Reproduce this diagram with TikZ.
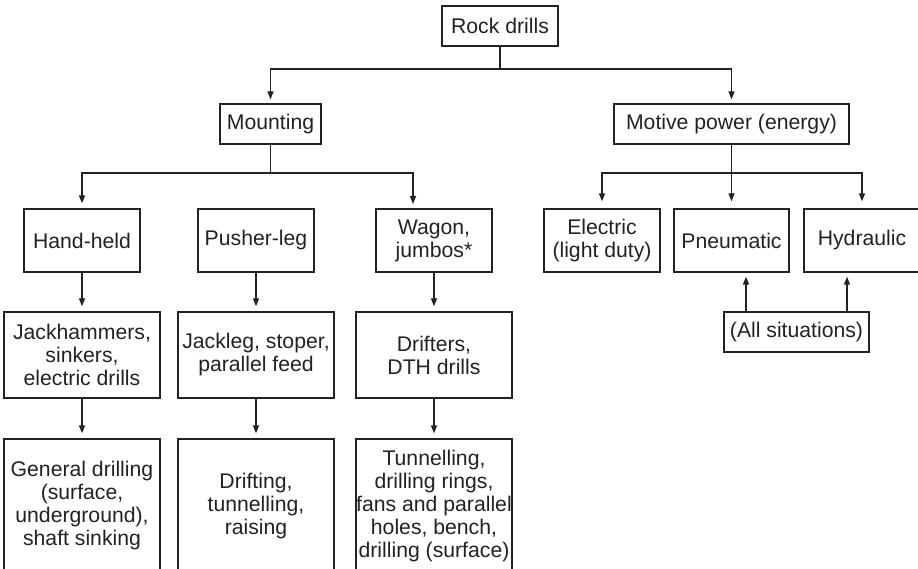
\documentclass[tikz,border=0pt]{standalone}
\usepackage{fontspec}
\setmainfont{Liberation Sans}
\usetikzlibrary{arrows.meta}
\definecolor{ink}{HTML}{222222}
\tikzset{
  box/.style={draw=ink, line width=1.3pt, inner sep=0pt, align=center, text=ink,
    font=\fontsize{21.2}{23}\selectfont},
  arr/.style={draw=ink, line width=1.3pt, -{Triangle[length=8pt,width=6pt]}, shorten >=5pt},
  ln/.style={draw=ink, line width=1.3pt}
}
\begin{document}
\begin{tikzpicture}[x=1pt,y=-1pt]
\useasboundingbox (0,0) rectangle (918,569);
\clip (0,0) rectangle (918,569);
\fill[white] (0,0) rectangle (918,569);
% level 1
\node[box, minimum width=116pt, minimum height=40pt] (rock) at (500,26) {Rock drills};
% level 2
\node[box, minimum width=101pt, minimum height=40pt] (mount) at (270.5,124) {Mounting};
\node[box, minimum width=235pt, minimum height=40pt] (motive) at (731.5,124) {Motive power (energy)};
% level 3
\node[box, minimum width=116pt, minimum height=63pt] (hand) at (82,240.5) {Hand-held};
\node[box, minimum width=116pt, minimum height=63pt] (pusher) at (256,240.5) {Pusher-leg};
\node[box, minimum width=116pt, minimum height=63pt] (wagon) at (434,240.5) {Wagon,\\jumbos*};
\node[box, minimum width=116pt, minimum height=63pt] (elec) at (602,240.5) {Electric\\(light duty)};
\node[box, minimum width=115pt, minimum height=63pt] (pneu) at (731.5,240.5) {Pneumatic};
\node[box, minimum width=116pt, minimum height=63pt] (hyd) at (862,240.5) {Hydraulic};
\node[box, minimum width=145pt, minimum height=40pt] (all) at (796.5,332) {(All situations)};
% level 4
\node[box, minimum width=156pt, minimum height=86pt] (jack) at (82,355) {Jackhammers,\\sinkers,\\electric drills};
\node[box, minimum width=156pt, minimum height=86pt] (jackleg) at (256,355) {Jackleg, stoper,\\parallel feed};
\node[box, minimum width=156pt, minimum height=86pt] (drifters) at (434,355) {Drifters,\\DTH drills};
% level 5
\node[box, minimum width=156pt, minimum height=134pt] (gen) at (82,506) {General drilling\\(surface,\\underground),\\shaft sinking};
\node[box, minimum width=156pt, minimum height=134pt] (drift) at (256,506) {Drifting,\\tunnelling,\\raising};
\node[box, minimum width=156pt, minimum height=134pt] (tunnel) at (434,506) {Tunnelling,\\drilling rings,\\fans and parallel\\holes, bench,\\drilling (surface)};
% connectors
\coordinate (rj) at (500,69);
\coordinate (mj) at (270.5,173);
\coordinate (pj) at (731.5,173);
\coordinate (wagonin) at (413,209);
\draw[ln] (rock.south) -- (rj);
\draw[arr, shorten >=4pt] (rj) -| (mount.north);
\draw[arr, shorten >=4pt] (rj) -| (motive.north);
\draw[ln] (mount.south) -- (mj);
\draw[arr] (mj) -| (hand.north);
\draw[arr] (mj) -| (wagonin);
\draw[ln] (motive.south) -- (pj);
\draw[arr, shorten >=7pt] (pj) -| (elec.north);
\draw[arr, shorten >=7pt] (pj) -- (pneu.north);
\draw[arr, shorten >=7pt] (pj) -| (hyd.north);
\draw[arr] (hand.south) -- (jack.north);
\draw[arr] (pusher.south) -- (jackleg.north);
\draw[arr] (wagon.south) -- (drifters.north);
\draw[arr] (jack.south) -- (gen.north);
\draw[arr] (jackleg.south) -- (drift.north);
\draw[arr] (drifters.south) -- (tunnel.north);
\draw[arr, shorten >=4pt] ([xshift=-50.5pt]all.north) -- ([xshift=-50.5pt]all.north |- pneu.south);
\draw[arr, shorten >=4pt] ([xshift=50.5pt]all.north) -- ([xshift=50.5pt]all.north |- hyd.south);
\end{tikzpicture}
\end{document}
